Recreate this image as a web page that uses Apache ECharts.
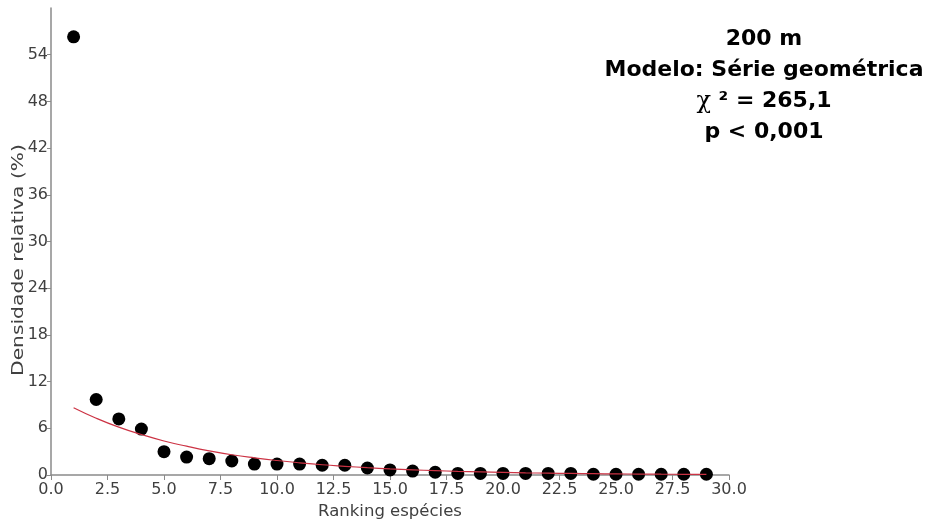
<!DOCTYPE html>
<html>
<head>
<meta charset="utf-8">
<script src="https://cdn.jsdelivr.net/npm/echarts@6/dist/echarts.min.js"></script>
<style>
  html, body { margin: 0; padding: 0; background: #fff; }
  #chart { width: 936px; height: 523px; }
</style>
</head>
<body>
<div id="chart"></div>
<script>
// Species rank (x) and observed relative density in % (y)
const ranks = [1, 2, 3, 4, 5, 6, 7, 8, 9, 10, 11, 12, 13, 14, 15,
               16, 17, 18, 19, 20, 21, 22, 23, 24, 25, 26, 27, 28, 29];
const observed = [56.3, 9.7, 7.2, 5.9, 3.0, 2.3, 2.1, 1.8, 1.4, 1.4, 1.4, 1.25, 1.25, 0.9, 0.65,
                  0.5, 0.35, 0.2, 0.2, 0.2, 0.2, 0.2, 0.2, 0.1, 0.1, 0.1, 0.1, 0.1, 0.1];
// Fitted geometric-series model at each rank
const fitted = [8.65, 7.3, 6.15, 5.2, 4.37, 3.7, 3.1, 2.6, 2.2, 1.86, 1.57, 1.32, 1.12, 0.94, 0.79,
                0.67, 0.56, 0.47, 0.40, 0.34, 0.28, 0.24, 0.20, 0.17, 0.14, 0.12, 0.10, 0.09, 0.07];
const yTickValues = [0, 6, 12, 18, 24, 30, 36, 42, 48, 54];
const annotationLines = ['200 m', 'Modelo: Série geométrica', 'χ', '² = 265,1', 'p < 0,001'];

const chart = echarts.init(document.getElementById('chart'), null, { renderer: 'canvas' });
const axisColor = '#8a8a8a';
const labelFont = 'DejaVu Sans';
const labelColor = '#404040';

chart.setOption({
  animation: false,
  grid: { left: 51, right: 207, top: 8, bottom: 48, containLabel: false, outerBoundsMode: 'none' },
  xAxis: {
    type: 'value',
    min: 0, max: 30, interval: 2.5,
    name: 'Ranking espécies',
    nameLocation: 'middle',
    nameGap: 25,
    nameTextStyle: { fontFamily: labelFont, fontSize: 16.5, color: labelColor },
    axisLine: { lineStyle: { color: axisColor, width: 1.5 } },
    axisTick: { show: true, length: 5, lineStyle: { color: axisColor } },
    axisLabel: {
      fontFamily: labelFont, fontSize: 16, color: labelColor, margin: 7,
      formatter: v => v.toFixed(1)
    },
    splitLine: { show: false }
  },
  yAxis: {
    type: 'value',
    min: 0, max: 60,
    axisLine: { show: true, lineStyle: { color: axisColor, width: 1.5 } },
    axisTick: { show: true, length: 4, customValues: yTickValues, lineStyle: { color: axisColor } },
    axisLabel: {
      fontFamily: labelFont, fontSize: 16, color: labelColor, margin: 3,
      customValues: yTickValues
    },
    splitLine: { show: false }
  },
  graphic: [
    {
      type: 'text',
      x: 19, y: 260, rotation: Math.PI / 2, scaleX: 1.35,
      style: {
        text: 'Densidade relativa (%)',
        font: '15px "DejaVu Sans"',
        fill: labelColor,
        align: 'center',
        verticalAlign: 'middle'
      }
    },
    {
      type: 'text',
      x: 764, y: 24,
      style: {
        text: annotationLines[0] + '\n' + annotationLines[1] + '\n{chi|' + annotationLines[2] + '}{b| ' + annotationLines[3] + '}\n' + annotationLines[4],
        font: 'bold 22px "DejaVu Sans"',
        fill: '#000',
        align: 'center',
        verticalAlign: 'top',
        lineHeight: 31,
        rich: {
          chi: { font: '24px "DejaVu Serif"', fill: '#000', lineHeight: 31 },
          b: { font: 'bold 22px "DejaVu Sans"', fill: '#000', lineHeight: 31 }
        }
      }
    }
  ],
  series: [
    {
      type: 'scatter',
      data: ranks.map((r, i) => [r, observed[i]]),
      symbol: 'circle',
      symbolSize: 13,
      itemStyle: { color: '#000', opacity: 1 },
      z: 2
    },
    {
      type: 'line',
      data: ranks.map((r, i) => [r, fitted[i]]),
      smooth: true,
      showSymbol: false,
      lineStyle: { color: '#cc3344', width: 1.2 },
      z: 3
    }
  ]
});
</script>
</body>
</html>
